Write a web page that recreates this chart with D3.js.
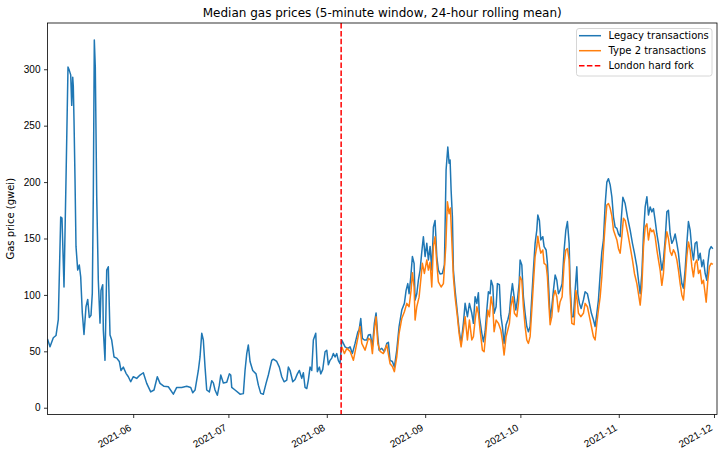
<!DOCTYPE html>
<html><head><meta charset="utf-8">
<script src="https://cdn.jsdelivr.net/npm/d3@7"></script>
<style>
body{margin:0;background:#fff;}
svg{display:block;font-family:"DejaVu Sans",sans-serif;}
</style></head>
<body><svg id="chart" width="724" height="458"></svg>
<script>
// ---- data (day offsets from 2021-05-05 00:00 UTC, values in gwei) ----
const startDate = Date.UTC(2021, 4, 5);
const forkDate = Date.UTC(2021, 7, 5, 12, 33);
const title = "Median gas prices (5-minute window, 24-hour rolling mean)";
const yLabel = "Gas price (gwei)";
const yTicks = [0, 50, 100, 150, 200, 250, 300];
const xTickDates = ["2021-06-01","2021-07-01","2021-08-01","2021-09-01","2021-10-01","2021-11-01","2021-12-01"];
const seriesNames = ["Legacy transactions", "Type 2 transactions", "London hard fork"];

const legacyDays = [0,0.79,1.83,2.68,3.40,4.16,4.57,5.20,5.83,6.46,6.87,7.31,7.63,7.94,8.13,8.35,8.67,8.98,9.52,10.02,10.46,10.97,11.50,12.13,12.67,13.17,13.71,14.12,14.43,14.75,15.06,15.51,16.01,16.55,16.86,17.18,17.40,17.59,18.12,18.66,19.16,19.70,20.23,20.96,21.81,22.63,23.16,23.89,24.74,25.47,26.22,27.04,28.11,29.15,30.19,31.26,32.52,33.56,34.60,35.46,36.72,38.07,39.65,40.72,42.29,43.87,45.13,45.76,46.49,47.53,48.06,48.60,49.10,49.64,50.17,51.00,51.75,52.26,52.79,53.51,54.14,54.59,55.41,56.48,57.30,57.74,58.05,59.09,60.67,61.71,62.24,62.78,63.28,63.82,64.67,65.71,66.44,67.19,68.01,68.86,69.59,70.66,71.16,72.23,73.05,73.81,74.54,75.39,75.89,76.43,77.28,78.00,78.73,79.36,80.11,80.62,81.15,81.69,82.19,82.73,83.26,83.77,84.52,85.03,85.66,86.10,86.73,87.46,87.99,88.50,89.03,89.57,90.07,90.61,91.14,91.65,92.18,92.72,93.23,93.76,94.61,95.34,96.06,96.91,97.77,98.17,98.71,99.21,99.84,100.60,101.11,101.74,102.37,103.00,103.53,104.07,104.48,105.33,106.15,106.90,107.41,107.94,108.67,109.30,110.05,110.78,111.63,112.45,112.99,113.52,113.93,114.47,114.97,115.51,115.82,116.36,116.86,117.40,117.93,118.44,118.97,119.51,120.01,120.55,121.08,121.59,122.12,122.66,123.16,123.70,124.42,125.06,125.59,126.13,126.54,126.85,127.17,127.58,127.89,128.43,128.96,129.69,130.32,131.05,131.58,132.31,132.94,133.69,134.20,134.73,135.27,135.77,136.09,136.85,137.35,137.89,138.42,138.92,139.46,139.77,140.31,140.72,141.35,141.76,142.39,142.83,143.33,143.87,144.50,145.04,145.54,145.98,146.49,147.02,147.56,148.06,148.60,148.91,149.45,149.95,150.49,151.02,151.53,152.06,152.60,153.10,153.64,154.17,154.49,154.99,155.43,156.06,156.47,157.11,157.52,157.96,158.37,158.91,159.41,159.95,160.48,160.99,161.52,162.15,162.78,163.32,163.82,164.36,164.67,165.21,165.71,166.25,166.78,167.10,167.60,168.14,168.86,169.40,170.12,170.75,171.38,172.01,172.55,173.09,173.59,174.13,174.66,175.17,175.71,176.24,176.75,177.29,177.82,178.33,178.86,179.40,179.90,180.44,180.75,181.29,182.01,182.74,183.59,184.31,184.94,185.70,186.21,186.75,187.28,187.79,188.32,188.86,189.36,189.90,190.42,190.93,191.46,192.00,192.50,193.04,193.57,194.08,194.61,195.15,195.65,196.19,196.72,197.23,197.76,198.30,198.80,199.34,199.87,200.38,200.91,201.45,201.95,202.49,203.03,203.53,204.06,204.60,205.11,205.64,206.18,206.68,207.22,207.75,208.07,208.57,209.11,209.64];
const legacyValues = [61,54,62,64,78,169,168,107,202,302,299,295,268,293,285,255,202,143,122,126.5,116,84,65,89.5,96,80,82,101.6,187,326,302,187,113,75,104,107,109,69,42,122,125,64.5,60,45,44,41,33,36,30.5,27.5,23,27.5,26,29,31,21.6,14,15.7,27.5,21.6,19,18.6,12,18,18,19,18,13.3,15.7,33,45,66,60,36,15.7,14,24,22,15.7,11,20,29,22,22.6,30,29,18,15.7,12,12.5,33,48,55.6,41,33,30,20,12.7,12,21.6,29,42,43,41,36,27.5,23,24.5,36,33,23,25,30,33,26,31,18,17,24.5,36,33,60,66,32,36,30,34,49.6,51,38,42,44,48,45,48,41.7,39,60,57,54,52.6,54,48,57,67,69,79,61.5,60,60,64.5,65,54,75,84,63,51,52.6,49.6,57,58,42,41,36,51,72,86.6,92.5,104,110,101,116,134,128,95.5,101,113,122,138,151.6,134,145.7,131,143,122,160,166,134,122,118.5,119,126.5,210.7,231,216.7,219.6,193,169,122,104,89.5,69,57,75,92.5,80.7,92.5,83.7,74.8,98.4,92.5,102,80.7,66,58.5,67.4,86.6,102.8,101,113,108,83.7,89.5,110,109,82,72,57,73.6,78,83.7,98.4,110,98.4,86.6,95.5,110,131,126.5,98.4,83.7,72,67.4,72,98.4,122,145.7,157.5,170.8,166,148.7,151.6,142.8,139.8,128,104,79,89.5,104,117.6,113,101,104,110,139.8,157.5,165,145.7,110,80.7,80.7,104,125,101,92.5,88,95.5,102.8,101,92.5,83.7,78,72,83.7,95.5,118,138,148.7,180,200,203,197.5,187,169,160,159,154,151.6,166,186.5,181,169,157.5,145.7,137,125,113,101,119,154,178,187,170.8,178,173.6,176.5,166,154,145.7,134,122,131,148.7,173.6,175,154,145.7,148.7,154,145.7,137,122,110,106,122,145.7,165,157.5,140,131,145.7,147,131,137,125,131,119,113,128,140,142.8,141];

const type2Days = [92.72,93.54,94.30,95.34,96.38,97.45,98.49,99.02,100.06,101.11,101.86,102.37,103.00,103.53,104.07,104.79,105.83,106.90,107.94,108.67,109.30,110.05,110.78,111.63,112.45,113.21,113.93,114.56,114.97,115.51,115.82,116.36,117.08,117.71,118.12,118.75,119.51,120.01,120.55,121.08,121.59,122.12,122.66,123.16,124.02,124.74,125.50,126.00,126.54,126.95,127.39,127.89,128.43,129.15,129.69,130.32,131.05,131.58,132.31,132.94,133.69,134.20,134.73,135.27,135.77,136.30,137.03,137.57,138.20,138.73,139.24,139.77,140.31,140.72,141.35,142.08,142.83,143.33,143.87,144.50,145.04,145.54,145.98,146.61,147.12,147.88,148.38,148.91,149.45,149.95,150.49,151.02,151.53,152.06,152.60,153.10,153.64,154.17,154.49,154.99,155.43,156.06,156.47,157.11,157.52,157.96,158.37,158.91,159.41,159.95,160.48,160.99,161.52,162.15,162.78,163.32,163.82,164.36,164.67,165.21,165.93,166.47,166.78,167.29,168.04,168.86,169.40,170.12,170.75,171.38,172.01,172.55,173.09,173.59,174.13,174.66,175.17,175.71,176.24,176.75,177.29,177.82,178.33,178.86,179.40,179.90,180.44,180.97,181.47,182.01,182.74,183.59,184.31,184.94,185.70,186.21,186.75,187.28,187.79,188.32,188.86,189.36,189.90,190.42,190.93,191.46,192.00,192.50,193.04,193.57,194.08,194.61,195.15,195.65,196.19,196.72,197.23,197.76,198.30,198.80,199.34,199.87,200.38,200.91,201.45,201.95,202.49,203.03,203.53,204.06,204.60,205.11,205.64,206.18,206.68,207.22,207.54,208.07,208.57,209.11,209.64];
const type2Values = [54,48,52.6,50,42,57,72,57,51,61.5,60,48,69,80.7,57,50,48,55.6,39,36.6,32,45,66,79,85,92.5,89.5,104,119.7,107,77.7,89.5,98,116,128,119,131,122,129,107,143,151.6,128,111.6,107,110,143,182.6,172,177,148.7,116,98,80.7,66,54,69,80.7,60,77.7,60,63,77.7,89.5,83.7,69,51,49.6,69,86.6,80.7,98.4,89.5,67.4,77.7,74.8,69,60,46.7,63,69,74.8,89.5,98.4,83.7,80.7,92.5,116,113,89.5,72,60,57,63,86.6,110,134,142.8,152,142.8,137,139.8,128,126.5,116,92.5,73.6,80.7,98.4,104,98.4,85,94,98.4,128,139.8,141,131,101,74.8,73.6,104,98.4,83.7,80.7,83.7,92.5,89.5,80.7,72,63,60,74.8,86.6,98,116,139.8,162,179.7,181,177,170,157.5,153,148.7,141,137,151.6,168,166,156,142.8,131,119,110,101,91,107,142.8,160,163,148.7,159,156,157.5,151.6,140,131,122,108.5,119,142.8,156,150,138.5,135,140,137,131,122,110,100,95.5,113,134,147,140,125,116,128,131,119,122,110,113,101,93.6,113,125,128,127];

// ---- layout ----
const W = 724, H = 458;
const m = {left: 47.5, right: 717, top: 23, bottom: 414.5};
const dayMs = 86400000;
const toDate = d => new Date(startDate + d * dayMs);

const svg = d3.select("#chart");
const x = d3.scaleUtc().domain([new Date(startDate), toDate(210.95)]).range([m.left, m.right]);
const y = d3.scaleLinear().domain([-6, 341]).range([m.bottom, m.top]);

const legacy = legacyDays.map((d, i) => ({t: toDate(d), v: legacyValues[i]}));
const type2 = type2Days.map((d, i) => ({t: toDate(d), v: type2Values[i]}));

const clip = svg.append("defs").append("clipPath").attr("id", "clip")
  .append("rect").attr("x", m.left).attr("y", m.top).attr("width", m.right - m.left).attr("height", m.bottom - m.top);

const line = d3.line().x(p => x(p.t)).y(p => y(p.v));
const plot = svg.append("g").attr("clip-path", "url(#clip)");
plot.append("path").datum(legacy).attr("d", line).attr("fill", "none").attr("stroke", "#1f77b4").attr("stroke-width", 1.5).attr("stroke-linejoin", "round");
plot.append("path").datum(type2).attr("d", line).attr("fill", "none").attr("stroke", "#ff7f0e").attr("stroke-width", 1.5).attr("stroke-linejoin", "round");
plot.append("line").attr("x1", x(new Date(forkDate))).attr("x2", x(new Date(forkDate)))
  .attr("y1", m.top).attr("y2", m.bottom).attr("stroke", "#ff0000").attr("stroke-width", 1.5).attr("stroke-dasharray", "5.5,2.4");

// axes
const xAxis = d3.axisBottom(x).tickValues(xTickDates.map(s => new Date(s + "T00:00:00Z")))
  .tickFormat(d3.utcFormat("%Y-%m")).tickSize(3.5).tickPadding(3.5);
const gx = svg.append("g").attr("transform", `translate(0,${m.bottom})`).call(xAxis);
gx.select(".domain").remove();
gx.selectAll(".tick line").attr("stroke", "#000").attr("stroke-width", 0.8);
gx.selectAll(".tick text").attr("font-size", 10).attr("fill", "#000")
  .attr("text-anchor", "end").attr("y", 0).attr("dy", 0)
  .attr("transform", "translate(-1.5,15.2) rotate(-30)");

const yAxis = d3.axisLeft(y).tickValues(yTicks).tickSize(3.5).tickPadding(3.5);
const gy = svg.append("g").attr("transform", `translate(${m.left},0)`).call(yAxis);
gy.select(".domain").remove();
gy.selectAll(".tick line").attr("stroke", "#000").attr("stroke-width", 0.8);
gy.selectAll(".tick text").attr("font-size", 10).attr("fill", "#000");

// frame
svg.append("rect").attr("x", m.left).attr("y", m.top).attr("width", m.right - m.left).attr("height", m.bottom - m.top)
  .attr("fill", "none").attr("stroke", "#000").attr("stroke-width", 0.8);

// title & labels
svg.append("text").attr("x", (m.left + m.right) / 2).attr("y", 17).attr("text-anchor", "middle")
  .attr("font-size", 12).attr("fill", "#000").text(title);
svg.append("text").attr("transform", `translate(13.5,${(m.top + m.bottom) / 2}) rotate(-90)`)
  .attr("text-anchor", "middle").attr("font-size", 10).attr("fill", "#000").text(yLabel);

// legend
const lg = svg.append("g");
lg.append("rect").attr("x", 576.5).attr("y", 28.5).attr("width", 135.5).attr("height", 47.5).attr("rx", 2.5)
  .attr("fill", "#fff").attr("fill-opacity", 0.8).attr("stroke", "#cccccc").attr("stroke-width", 0.8);
const lgColors = ["#1f77b4", "#ff7f0e", "#ff0000"];
const lgDash = [null, null, "5.5,2.4"];
seriesNames.forEach((name, i) => {
  const yy = 35.7 + i * 15;
  lg.append("line").attr("x1", 579).attr("x2", 601).attr("y1", yy).attr("y2", yy)
    .attr("stroke", lgColors[i]).attr("stroke-width", 1.5).attr("stroke-dasharray", lgDash[i]);
  lg.append("text").attr("x", 608.5).attr("y", yy + 3.5).attr("font-size", 10).attr("fill", "#000").text(name);
});
</script></body></html>
